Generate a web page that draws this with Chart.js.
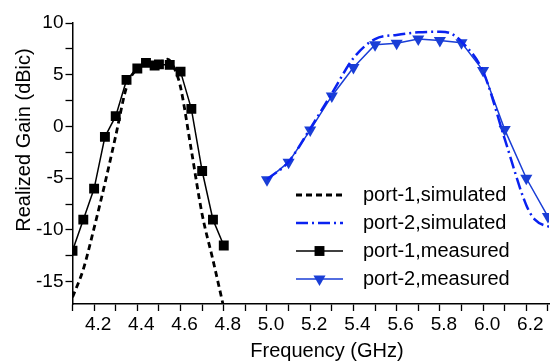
<!DOCTYPE html>
<html>
<head>
<meta charset="utf-8">
<script src="https://cdn.jsdelivr.net/npm/chart.js@4.4.1/dist/chart.umd.min.js"></script>
<style>
	body { margin: 0; background: #fff; }
</style>
</head>
<body>
<canvas id="myChartGain" width="556" height="363"></canvas>
<script>
// port-1, simulated (dashed black)
var freqSim1 = [4.10, 4.15, 4.20, 4.25, 4.30, 4.35, 4.40, 4.45, 4.50, 4.54, 4.58, 4.60, 4.65, 4.70, 4.75, 4.80];
var gainSim1 = [-16.5, -13.8, -9.8, -5.5, -0.9, 3.8, 5.6, 6.0, 6.2, 6.5, 5.2, 3.8, -2.3, -8.5, -12.9, -17.5];

// port-2, simulated (dash-dot blue)
var freqSim2 = [5.00, 5.10, 5.20, 5.30, 5.40, 5.50, 5.60, 5.70, 5.80, 5.85, 5.90, 6.00, 6.10, 6.20, 6.24, 6.32];
var gainSim2 = [-5.1, -3.4, -0.2, 3.2, 6.6, 8.45, 8.85, 9.1, 9.15, 9.0, 8.2, 5.3, -1.2, -7.6, -9.0, -9.8];

// port-1, measured (black squares)
var freqMeas1 = [4.10, 4.15, 4.20, 4.25, 4.30, 4.35, 4.40, 4.44, 4.48, 4.50, 4.55, 4.60, 4.65, 4.70, 4.75, 4.80];
var gainMeas1 = [-12.0, -9.0, -6.0, -1.0, 1.0, 4.5, 5.6, 6.15, 5.9, 6.0, 5.95, 5.3, 1.7, -4.3, -9.0, -11.5];

// port-2, measured (blue triangles)
var freqMeas2 = [5.0, 5.1, 5.2, 5.3, 5.4, 5.5, 5.6, 5.7, 5.8, 5.9, 6.0, 6.1, 6.2, 6.3];
var gainMeas2 = [-5.15, -3.45, -0.35, 2.95, 5.7, 7.9, 8.05, 8.45, 8.3, 8.1, 5.4, -0.3, -5.0, -8.7];

var seriesNames = ['port-1,simulated', 'port-2,simulated', 'port-1,measured', 'port-2,measured'];
var xTitle = 'Frequency (GHz)';
var yTitle = 'Realized Gain (dBic)';
var xTickLabels = [4.2, 4.4, 4.6, 4.8, 5.0, 5.2, 5.4, 5.6, 5.8, 6.0, 6.2];
var yTickLabels = [-15, -10, -5, 0, 5, 10];

var FONT = '"Liberation Sans", Arial, sans-serif';

var gain = {
	startUp: function () {
		gain.chartGain();
	}, // end - startUp

	toPoints: function (xs, ys) {
		var pts = [];
		for (var i = 0; i < xs.length; i++) {
			pts.push({ x: xs[i], y: ys[i] });
		}
		return pts;
	}, // end - toPoints

	// axis titles + legend drawn inside the plot like the original
	textPlugin: {
		id: 'gainTexts',
		afterDraw: function (c) {
			var ctx = c.ctx;
			ctx.save();
			ctx.fillStyle = '#000';
			ctx.font = '20px ' + FONT;
			ctx.textAlign = 'center';
			ctx.textBaseline = 'middle';
			ctx.fillText(xTitle, 327, 351);
			ctx.translate(24, 140);
			ctx.rotate(-Math.PI / 2);
			ctx.fillText(yTitle, 0, 0);
			ctx.restore();

			var sets = c.data.datasets;
			for (var i = 0; i < sets.length; i++) {
				var ds = sets[i];
				var yy = 195 + i * 28;
				ctx.save();
				ctx.strokeStyle = ds.borderColor;
				ctx.lineWidth = ds.borderWidth;
				ctx.setLineDash(ds.borderDash || []);
				ctx.beginPath();
				ctx.moveTo(296, yy);
				ctx.lineTo(343, yy);
				ctx.stroke();
				ctx.setLineDash([]);
				if (ds.pointRadius > 0) {
					ctx.fillStyle = ds.pointBackgroundColor;
					ctx.strokeStyle = ds.pointBorderColor;
					Chart.helpers.drawPoint(ctx, {
						pointStyle: ds.pointStyle,
						rotation: ds.pointRotation || 0,
						radius: ds.pointRadius,
						borderWidth: 0
					}, 319.5, yy);
				}
				ctx.fillStyle = '#000';
				ctx.font = '20px ' + FONT;
				ctx.textAlign = 'left';
				ctx.textBaseline = 'middle';
				ctx.fillText(ds.label, 363, yy);
				ctx.restore();
			}
		}
	}, // end - textPlugin

	chartGain: function () {
		var blackC = '#000000';
		var blueSim = '#0a22f0';
		var blueMeas = '#1a3ed6';

		new Chart('myChartGain', {
			type: 'line',
			data: {
				datasets: [{
					label: seriesNames[0],
					data: gain.toPoints(freqSim1, gainSim1),
					borderColor: blackC,
					borderWidth: 2.8,
					borderDash: [6, 4],
					pointRadius: 0,
					cubicInterpolationMode: 'monotone'
				}, {
					label: seriesNames[1],
					data: gain.toPoints(freqSim2, gainSim2),
					borderColor: blueSim,
					borderWidth: 2.5,
					borderDash: [12, 4, 2, 4],
					pointRadius: 0,
					cubicInterpolationMode: 'monotone'
				}, {
					label: seriesNames[2],
					data: gain.toPoints(freqMeas1, gainMeas1),
					borderColor: blackC,
					borderWidth: 1.5,
					pointStyle: 'rect',
					pointRadius: 7,
					pointBorderWidth: 0,
					pointBackgroundColor: blackC,
					pointBorderColor: blackC,
					tension: 0
				}, {
					label: seriesNames[3],
					data: gain.toPoints(freqMeas2, gainMeas2),
					borderColor: blueMeas,
					borderWidth: 1.5,
					pointStyle: 'triangle',
					pointRotation: 180,
					pointRadius: 7,
					pointBorderWidth: 0,
					pointBackgroundColor: blueMeas,
					pointBorderColor: blueMeas,
					tension: 0
				}]
			},
			options: {
				responsive: false,
				animation: false,
				layout: { padding: { top: 23, right: 0, left: 0, bottom: 0 } },
				plugins: {
					legend: { display: false },
					tooltip: { enabled: false }
				},
				scales: {
					x: {
						type: 'linear',
						min: 4.1,
						max: 6.305,
						afterFit: function (s) { s.height = 59; },
						border: { color: '#000', width: 1.5 },
						grid: { drawOnChartArea: false, drawTicks: true, tickLength: 7, color: '#000', tickWidth: 1.3 },
						ticks: {
							stepSize: 0.1,
							includeBounds: false,
							autoSkip: false,
							maxRotation: 0,
							labelOffset: 4,
							padding: 2,
							color: '#000',
							font: { size: 19, family: FONT },
							callback: function (v) {
								var r = Math.round(v * 10) / 10;
								return xTickLabels.indexOf(r) >= 0 ? r.toFixed(1) : '';
							}
						}
					},
					y: {
						min: -17.15,
						max: 10,
						afterFit: function (s) { s.width = 72.5; },
						border: { color: '#000', width: 1.5 },
						grid: { drawOnChartArea: false, drawTicks: true, tickLength: 7, color: '#000', tickWidth: 1.3 },
						ticks: {
							stepSize: 2.5,
							includeBounds: false,
							autoSkip: false,
							padding: 2,
							color: '#000',
							font: { size: 19, family: FONT },
							callback: function (v) {
								return yTickLabels.indexOf(v) >= 0 ? String(v) : '';
							}
						}
					}
				}
			},
			plugins: [gain.textPlugin]
		});
	} // end - chartGain
};

gain.startUp();
</script>
</body>
</html>
